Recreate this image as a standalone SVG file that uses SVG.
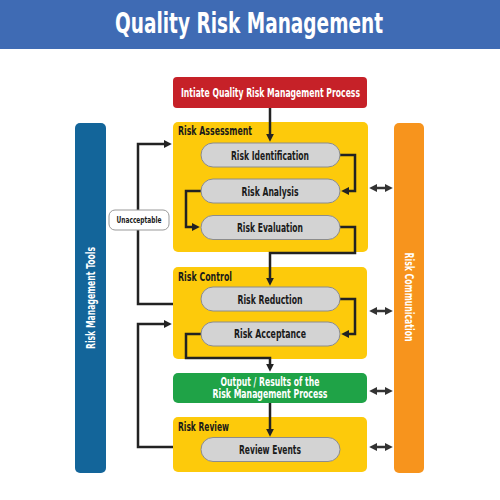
<svg xmlns="http://www.w3.org/2000/svg" width="500" height="500" viewBox="0 0 500 500">
<defs>
<style>
.t{font-family:"DejaVu Sans Condensed","DejaVu Sans",sans-serif;font-weight:bold;}
.w{fill:#ffffff;}
.k{fill:#1a1a1a;}
.yel{fill:#FDCA0B;}
.pill{fill:#D3D3D3;stroke:#8C8C8C;stroke-width:1;}
.ln{fill:none;stroke:#222222;stroke-width:2.5;}
.dbl{fill:none;stroke:#333333;stroke-width:2.5;}
</style>
<marker id="ah" viewBox="0 0 10 10" refX="4" refY="5" markerWidth="8" markerHeight="8" markerUnits="userSpaceOnUse" orient="auto-start-reverse">
<path d="M0 0 L10 5 L0 10 z" fill="#222222"/>
</marker>
<marker id="ah2" viewBox="0 0 10 10" refX="4" refY="5" markerWidth="8" markerHeight="8" markerUnits="userSpaceOnUse" orient="auto-start-reverse">
<path d="M0 0 L10 5 L0 10 z" fill="#333333"/>
</marker>
</defs>
<rect x="0" y="0" width="500" height="500" fill="#ffffff"/>

<g id="title">
<rect x="0" y="0" width="500" height="49" fill="#3F6BB4"/>
<text class="t w" x="249" y="33" font-size="29" text-anchor="middle" textLength="268" lengthAdjust="spacingAndGlyphs">Quality Risk Management</text>
</g>

<g id="tools">
<rect x="75" y="123" width="31" height="350" rx="5" fill="#13659A"/>
<text class="t w" transform="translate(94.5,298) rotate(-90)" x="0" y="0" font-size="12" text-anchor="middle" textLength="102" lengthAdjust="spacingAndGlyphs">Risk Management Tools</text>
</g>

<g id="communication">
<rect x="394" y="123" width="30" height="350" rx="5" fill="#F7941D"/>
<text class="t w" transform="translate(404.5,297) rotate(90)" x="0" y="0" font-size="12" text-anchor="middle" textLength="89" lengthAdjust="spacingAndGlyphs">Risk Communication</text>
</g>

<g id="initiate">
<rect x="173" y="77" width="194" height="31" rx="4" fill="#C62128"/>
<text class="t w" x="270.5" y="96.5" font-size="12.5" text-anchor="middle" textLength="179" lengthAdjust="spacingAndGlyphs">Intiate Quality Risk Management Process</text>
</g>

<g id="assessment">
<rect class="yel" x="173" y="122" width="195" height="130" rx="5"/>
<text class="t k" x="178" y="135" font-size="12" textLength="74" lengthAdjust="spacingAndGlyphs">Risk Assessment</text>
</g>

<g id="control">
<rect class="yel" x="173" y="267" width="194" height="92" rx="5"/>
<text class="t k" x="178" y="280.5" font-size="12" textLength="54" lengthAdjust="spacingAndGlyphs">Risk Control</text>
</g>

<g id="output">
<rect x="173" y="373" width="194" height="30" rx="5" fill="#1FA347"/>
<text class="t w" x="270" y="385.7" font-size="12" text-anchor="middle" textLength="99" lengthAdjust="spacingAndGlyphs">Output / Results of the</text>
<text class="t w" x="270" y="398.3" font-size="12" text-anchor="middle" textLength="115" lengthAdjust="spacingAndGlyphs">Risk Management Process</text>
</g>

<g id="review">
<rect class="yel" x="173" y="417" width="194" height="55" rx="5"/>
<text class="t k" x="178" y="431" font-size="12" textLength="51" lengthAdjust="spacingAndGlyphs">Risk Review</text>
</g>

<g id="connectors">
<path class="ln" d="M270 108 V137" marker-end="url(#ah)"/>
<path class="ln" d="M340 155 H355 V191 H346" marker-end="url(#ah)"/>
<path class="ln" d="M201 191 H186 V227 H195" marker-end="url(#ah)"/>
<path class="ln" d="M340 227 H355 V253 H270 V281" marker-end="url(#ah)"/>
<path class="ln" d="M340 299 H355 V334 H346" marker-end="url(#ah)"/>
<path class="ln" d="M201 334 H186 V358 H270 V367" marker-end="url(#ah)"/>
<path class="ln" d="M270 403 V432" marker-end="url(#ah)"/>
<path class="ln" d="M173 304 H138 V144 H167" marker-end="url(#ah)"/>
<path class="ln" d="M173 447 H138 V324 H167" marker-end="url(#ah)"/>
<path class="dbl" d="M374 188 H388" marker-start="url(#ah2)" marker-end="url(#ah2)"/>
<path class="dbl" d="M374 311 H388" marker-start="url(#ah2)" marker-end="url(#ah2)"/>
<path class="dbl" d="M374 391 H388" marker-start="url(#ah2)" marker-end="url(#ah2)"/>
<path class="dbl" d="M374 447 H388" marker-start="url(#ah2)" marker-end="url(#ah2)"/>
</g>

<g id="unacceptable">
<rect x="109" y="210" width="60" height="20" rx="6" fill="#ffffff" stroke="#999999" stroke-width="1"/>
<text class="t k" x="139" y="223" font-size="9" text-anchor="middle" textLength="45" lengthAdjust="spacingAndGlyphs">Unacceptable</text>
</g>

<g id="identification">
<rect class="pill" x="201" y="143" width="139" height="24" rx="12"/>
<text class="t k" x="270" y="160" font-size="13" text-anchor="middle" textLength="78" lengthAdjust="spacingAndGlyphs">Risk Identification</text>
</g>
<g id="analysis">
<rect class="pill" x="201" y="179" width="139" height="24" rx="12"/>
<text class="t k" x="270" y="195.5" font-size="13" text-anchor="middle" textLength="57" lengthAdjust="spacingAndGlyphs">Risk Analysis</text>
</g>
<g id="evaluation">
<rect class="pill" x="201" y="215.5" width="139" height="24" rx="12"/>
<text class="t k" x="270" y="232" font-size="13" text-anchor="middle" textLength="66" lengthAdjust="spacingAndGlyphs">Risk Evaluation</text>
</g>
<g id="reduction">
<rect class="pill" x="201" y="287" width="139" height="24" rx="12"/>
<text class="t k" x="270" y="303.5" font-size="13" text-anchor="middle" textLength="65" lengthAdjust="spacingAndGlyphs">Risk Reduction</text>
</g>
<g id="acceptance">
<rect class="pill" x="201" y="322" width="139" height="24" rx="12"/>
<text class="t k" x="270" y="338" font-size="13" text-anchor="middle" textLength="72" lengthAdjust="spacingAndGlyphs">Risk Acceptance</text>
</g>
<g id="events">
<rect class="pill" x="201" y="437.5" width="139" height="24" rx="12"/>
<text class="t k" x="270" y="454.3" font-size="13" text-anchor="middle" textLength="62" lengthAdjust="spacingAndGlyphs">Review Events</text>
</g>
</svg>
